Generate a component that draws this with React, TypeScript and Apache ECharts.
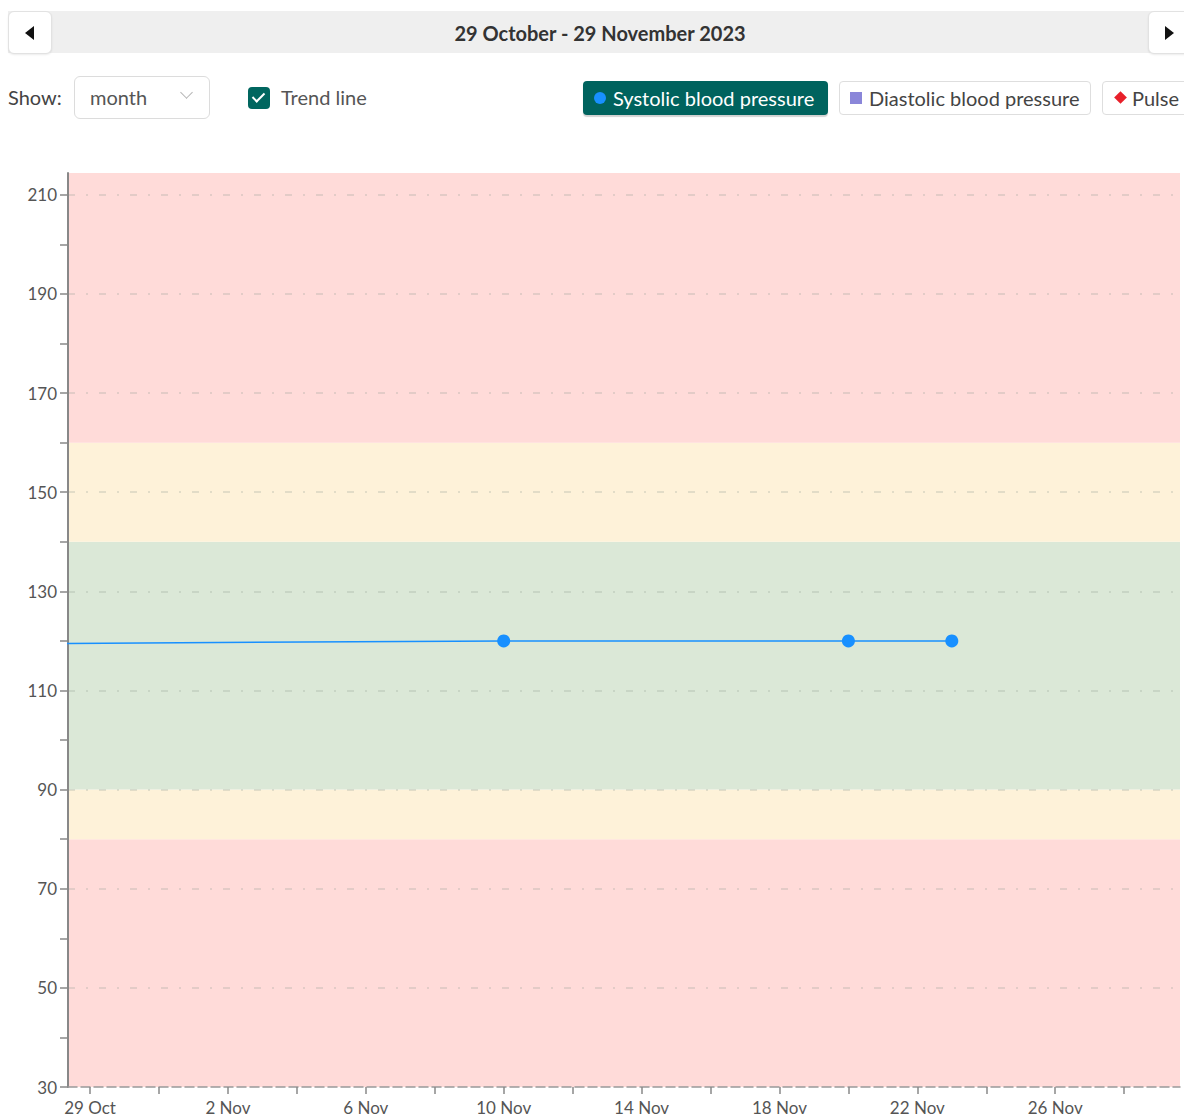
import React, { useEffect, useRef } from "react";
import * as echarts from "echarts";

// ---- data ----
const readingDates = ["2023-10-16", "2023-11-10", "2023-11-20", "2023-11-23"];
const systolicValues = [119, 120, 120, 120];

const bandLows = [30, 80, 90, 140, 160];
const bandHighs = [80, 90, 140, 160, 214.4];
const bandKinds = ["danger", "warning", "normal", "warning", "danger"];

const gridLineValues = [50, 70, 90, 110, 130, 150, 170, 190, 210];
const yTickValues = [30, 40, 50, 60, 70, 80, 90, 100, 110, 120, 130, 140, 150, 160, 170, 180, 190, 200, 210];
const yLabelValues = [30, 50, 70, 90, 110, 130, 150, 170, 190, 210];

const xTickDates = [
  "2023-10-29", "2023-10-31", "2023-11-02", "2023-11-04", "2023-11-06", "2023-11-08",
  "2023-11-10", "2023-11-12", "2023-11-14", "2023-11-16", "2023-11-18", "2023-11-20",
  "2023-11-22", "2023-11-24", "2023-11-26", "2023-11-28",
];
const xLabelDates = [
  "2023-10-29", "2023-11-02", "2023-11-06", "2023-11-10", "2023-11-14",
  "2023-11-18", "2023-11-22", "2023-11-26",
];
const monthNames = ["Jan", "Feb", "Mar", "Apr", "May", "Jun", "Jul", "Aug", "Sep", "Oct", "Nov", "Dec"];

const rangeTitle = "29 October - 29 November 2023";

// ---- styles ----
const bandColors: Record<string, string> = {
  danger: "#ffdbd9",
  warning: "#fef2d9",
  normal: "#dbe8d7",
};
const DAY = 86400000;
const ts = (s: string) => new Date(s + "T00:00:00Z").getTime();
const axisStart = ts("2023-10-29") - 0.64 * DAY;
const axisEnd = ts("2023-10-29") + 31.62 * DAY;
const yMin = 30;
const yMax = 214.4;
const FONT = "Lato, 'Noto Sans', sans-serif";

function Chart() {
  const ref = useRef<HTMLDivElement>(null);
  useEffect(() => {
    if (!ref.current) return;
    const chart = echarts.init(ref.current, undefined, { renderer: "svg" });
    const points = readingDates.map((d, i) => [ts(d), systolicValues[i]]);
    chart.setOption({
      animation: false,
      textStyle: { fontFamily: FONT },
      grid: { left: 68, right: 4, top: 43, bottom: 30 },
      xAxis: {
        type: "value",
        min: axisStart,
        max: axisEnd,
        z: 5,
        axisLine: { show: true, onZero: false, lineStyle: { color: "#999", width: 1.5, type: [9, 4] } },
        axisTick: {
          show: true,
          length: 7,
          customValues: xTickDates.map(ts),
          lineStyle: { color: "#888", width: 1.5 },
        },
        axisLabel: {
          customValues: xLabelDates.map(ts),
          color: "#555",
          fontSize: 17,
          lineHeight: 17,
          fontFamily: FONT,
          margin: 12,
          formatter: (v: number) => {
            const d = new Date(v);
            return d.getUTCDate() + " " + monthNames[d.getUTCMonth()];
          },
        },
        splitLine: { show: false },
      },
      yAxis: {
        type: "value",
        min: yMin,
        max: yMax,
        z: 5,
        axisLine: { show: true, lineStyle: { color: "#888", width: 2 } },
        axisTick: {
          show: true,
          length: 8,
          customValues: yTickValues,
          lineStyle: { color: "#888", width: 1.5 },
        },
        axisLabel: {
          customValues: yLabelValues,
          color: "#555",
          fontSize: 17,
          fontFamily: FONT,
          margin: 11,
        },
        splitLine: { show: false },
      },
      series: [
        {
          type: "line",
          data: [],
          z: 1,
          silent: true,
          markArea: {
            silent: true,
            data: bandLows.map((lo, i) => [
              { yAxis: lo, itemStyle: { color: bandColors[bandKinds[i]] } },
              { yAxis: bandHighs[i] },
            ]),
          },
          markLine: {
            silent: true,
            symbol: "none",
            label: { show: false },
            lineStyle: { color: "rgba(150,160,150,0.35)", width: 1.5, type: [7, 11, 2, 11] },
            data: gridLineValues.map((v) => ({ yAxis: v })),
          },
        },
        {
          type: "line",
          name: "Systolic blood pressure",
          data: points,
          z: 10,
          clip: true,
          symbol: "circle",
          symbolSize: 13,
          itemStyle: { color: "#1890ff" },
          lineStyle: { color: "#1890ff", width: 1.5 },
        },
      ],
    });
    return () => chart.dispose();
  }, []);
  return <div ref={ref} style={{ position: "absolute", left: 0, top: 130, width: 1184, height: 987 }} />;
}

const abs = (o: React.CSSProperties): React.CSSProperties => ({ position: "absolute", ...o });

export default function App() {
  return (
    <div
      style={{
        position: "fixed",
        left: 0,
        top: 0,
        width: 1184,
        height: 1117,
        overflow: "hidden",
        background: "#fff",
        fontFamily: FONT,
      }}
    >
      {/* top bar */}
      <div style={abs({ left: 8, top: 11, width: 1200, height: 42, background: "#efefef" })} />
      <div
        style={abs({
          left: 8, top: 11, width: 42, height: 41, background: "#fff", border: "1px solid #e2e2e2",
          borderRadius: 6, boxShadow: "0 1px 2px rgba(0,0,0,0.08)",
        })}
      >
        <div style={abs({ left: 16, top: 14, width: 0, height: 0, borderTop: "7px solid transparent", borderBottom: "7px solid transparent", borderRight: "9px solid #111" })} />
      </div>
      <div
        style={abs({
          left: 1148, top: 11, width: 42, height: 41, background: "#fff", border: "1px solid #e2e2e2",
          borderRadius: 6, boxShadow: "0 1px 2px rgba(0,0,0,0.08)",
        })}
      >
        <div style={abs({ left: 16, top: 14, width: 0, height: 0, borderTop: "7px solid transparent", borderBottom: "7px solid transparent", borderLeft: "9px solid #111" })} />
      </div>
      <div style={abs({ left: 300, top: 12, width: 600, height: 42, lineHeight: "42px", textAlign: "center", fontSize: 20, fontWeight: 700, color: "#333" })}>
        {rangeTitle}
      </div>

      {/* controls */}
      <div style={abs({ left: 8, top: 76, height: 43, lineHeight: "43px", fontSize: 20, color: "#444" })}>Show:</div>
      <div style={abs({ left: 74, top: 76, width: 134, height: 41, border: "1px solid #dcdcdc", borderRadius: 6, background: "#fff" })}>
        <div style={abs({ left: 15, top: 0, lineHeight: "41px", fontSize: 20, color: "#555" })}>month</div>
        <div style={abs({ left: 107, top: 11, width: 8, height: 8, borderRight: "1.5px solid #b5b5b5", borderBottom: "1.5px solid #b5b5b5", transform: "rotate(45deg)" })} />
      </div>
      <div style={abs({ left: 248, top: 87, width: 22, height: 22, background: "#00665f", borderRadius: 4 })}>
        <div style={abs({ left: 7, top: 3, width: 5, height: 10, borderRight: "2.5px solid #fff", borderBottom: "2.5px solid #fff", transform: "rotate(45deg)" })} />
      </div>
      <div style={abs({ left: 281, top: 76, height: 43, lineHeight: "43px", fontSize: 20, color: "#555" })}>Trend line</div>

      {/* legend buttons */}
      <div style={abs({ left: 583, top: 81, width: 245, height: 34, background: "#00635e", borderRadius: 4, boxShadow: "0 2px 1px rgba(0,0,0,0.18)" })}>
        <div style={abs({ left: 11, top: 11, width: 12, height: 12, borderRadius: "50%", background: "#1890ff" })} />
        <div style={abs({ left: 30, top: 0, lineHeight: "34px", fontSize: 20, color: "#fff", whiteSpace: "nowrap" })}>Systolic blood pressure</div>
      </div>
      <div style={abs({ left: 839, top: 81, width: 250, height: 32, background: "#fff", border: "1px solid #dedede", borderRadius: 4 })}>
        <div style={abs({ left: 10, top: 10, width: 12, height: 12, background: "#8a86d9" })} />
        <div style={abs({ left: 29, top: 0, lineHeight: "32px", fontSize: 20, color: "#444", whiteSpace: "nowrap" })}>Diastolic blood pressure</div>
      </div>
      <div style={abs({ left: 1102, top: 81, width: 100, height: 32, background: "#fff", border: "1px solid #dedede", borderRadius: 4 })}>
        <div style={abs({ left: 13, top: 11, width: 9, height: 9, background: "#e8202a", transform: "rotate(45deg)" })} />
        <div style={abs({ left: 29, top: 0, lineHeight: "32px", fontSize: 20, color: "#444", whiteSpace: "nowrap" })}>Pulse</div>
      </div>

      <Chart />
    </div>
  );
}
